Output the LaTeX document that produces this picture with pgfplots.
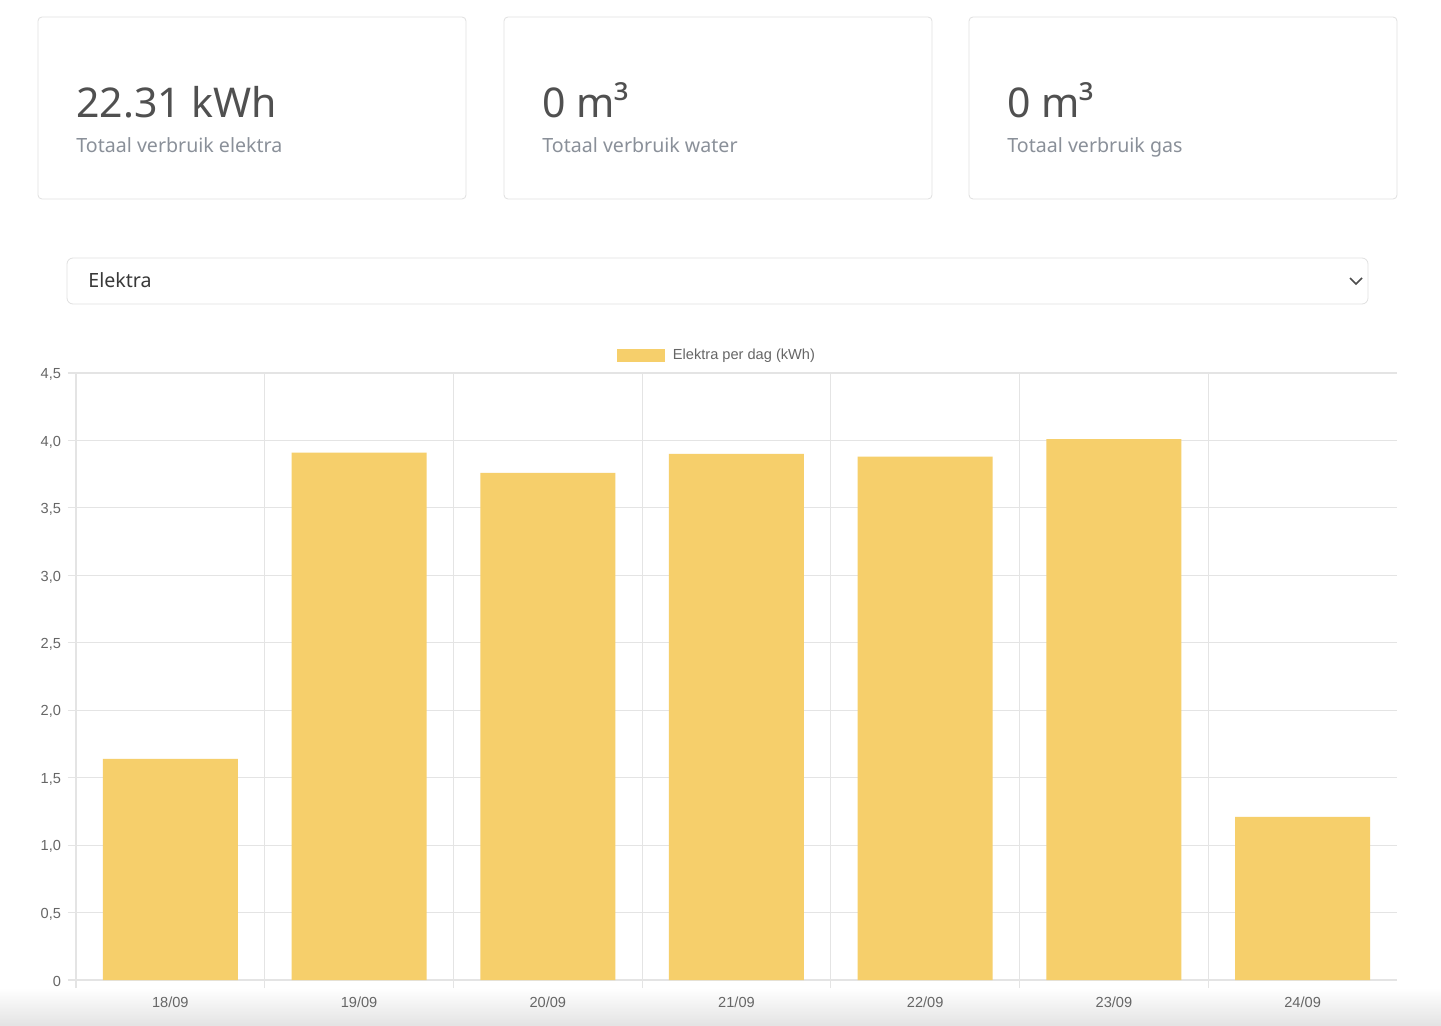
\documentclass[border=0pt]{standalone}
\usepackage{pgfplots}
\pgfplotsset{compat=1.18}
\usepackage{fontspec}
\setmainfont{Liberation Sans}
\newfontfamily\uifont{Noto Sans}
\definecolor{barc}{HTML}{F6CF6B}
\definecolor{gridc}{HTML}{E4E4E4}
\definecolor{ticktext}{HTML}{666666}
\definecolor{cardtext}{HTML}{505050}
\definecolor{subtext}{HTML}{8A9099}
\definecolor{cardline}{HTML}{E0E0E0}

\begin{document}
\begin{tikzpicture}[x=0.5pt,y=-0.5pt]
% page background and bottom fade
\fill[white] (0,0) rectangle (1441,1026);
\shade[top color=white,bottom color=black!11] (0,988) rectangle (1441,1026);

% summary cards
\foreach \xa/\val/\lab in {38/{22.31 kWh}/{Totaal verbruik elektra},504/{0 m³}/{Totaal verbruik water},969/{0 m³}/{Totaal verbruik gas}} {
  \draw[cardline,rounded corners=2pt] (\xa,17) rectangle ++(428,182);
  \node[anchor=base west,inner sep=0,text=cardtext,font=\uifont\fontsize{20.5}{24}\selectfont] at (\xa+38,118) {\val};
  \node[anchor=base west,inner sep=0,text=subtext,font=\uifont\fontsize{9.8}{12}\selectfont] at (\xa+38,153) {\lab};
}

% select box
\draw[cardline,rounded corners=3pt] (67,258) rectangle (1368,304);
\node[anchor=base west,inner sep=0,text=black!78,font=\uifont\fontsize{9.8}{12}\selectfont] at (88,288) {Elektra};
\draw[black!70,line width=0.8pt] (1350,278) -- (1356,284) -- (1362,278);

\begin{axis}[
    at={(38pt,-490pt)}, anchor=south west,
    scale only axis, width=660.5pt, height=303.5pt,
    ybar, bar width=67.5pt,
    xmin=-0.5, xmax=6.5, ymin=0, ymax=4.5,
    axis line style={draw=none},
    ytick={0,0.5,1,1.5,2,2.5,3,3.5,4,4.5},
    yticklabels={0,{0,5},{1,0},{1,5},{2,0},{2,5},{3,0},{3,5},{4,0},{4,5}},
    xtick={-0.5,0.5,1.5,2.5,3.5,4.5,5.5},
    xticklabels={},
    extra x ticks={0,1,2,3,4,5,6},
    extra x tick labels={18/09,19/09,20/09,21/09,22/09,23/09,24/09},
    extra x tick style={grid=none, tick style={draw=none},
      xticklabel style={yshift=-1pt}},
    xmajorgrids, ymajorgrids,
    grid style={gridc, line width=0.6pt},
    tick style={gridc, line width=0.6pt},
    tick pos=left, tick align=outside, major tick length=4pt,
    ticklabel style={text=ticktext, font=\fontsize{7.3}{8}\selectfont},
    yticklabel style={yshift=-0.8pt},
    legend style={at={(axis description cs:0.486,1.029)}, anchor=center,
      draw=none, fill=none, inner sep=0pt, column sep=2pt,
      nodes={inner sep=2pt, text=ticktext, font=\fontsize{7.3}{8}\selectfont}},
  ]
\addplot[fill=barc, draw=none,
  legend image code/.code={\fill[barc] (0pt,-3.25pt) rectangle (24pt,3.25pt);}]
  coordinates {(0,1.64) (1,3.91) (2,3.76) (3,3.90) (4,3.88) (5,4.01) (6,1.21)};
\addlegendentry{Elektra per dag (kWh)}
\end{axis}
\end{tikzpicture}
\end{document}
